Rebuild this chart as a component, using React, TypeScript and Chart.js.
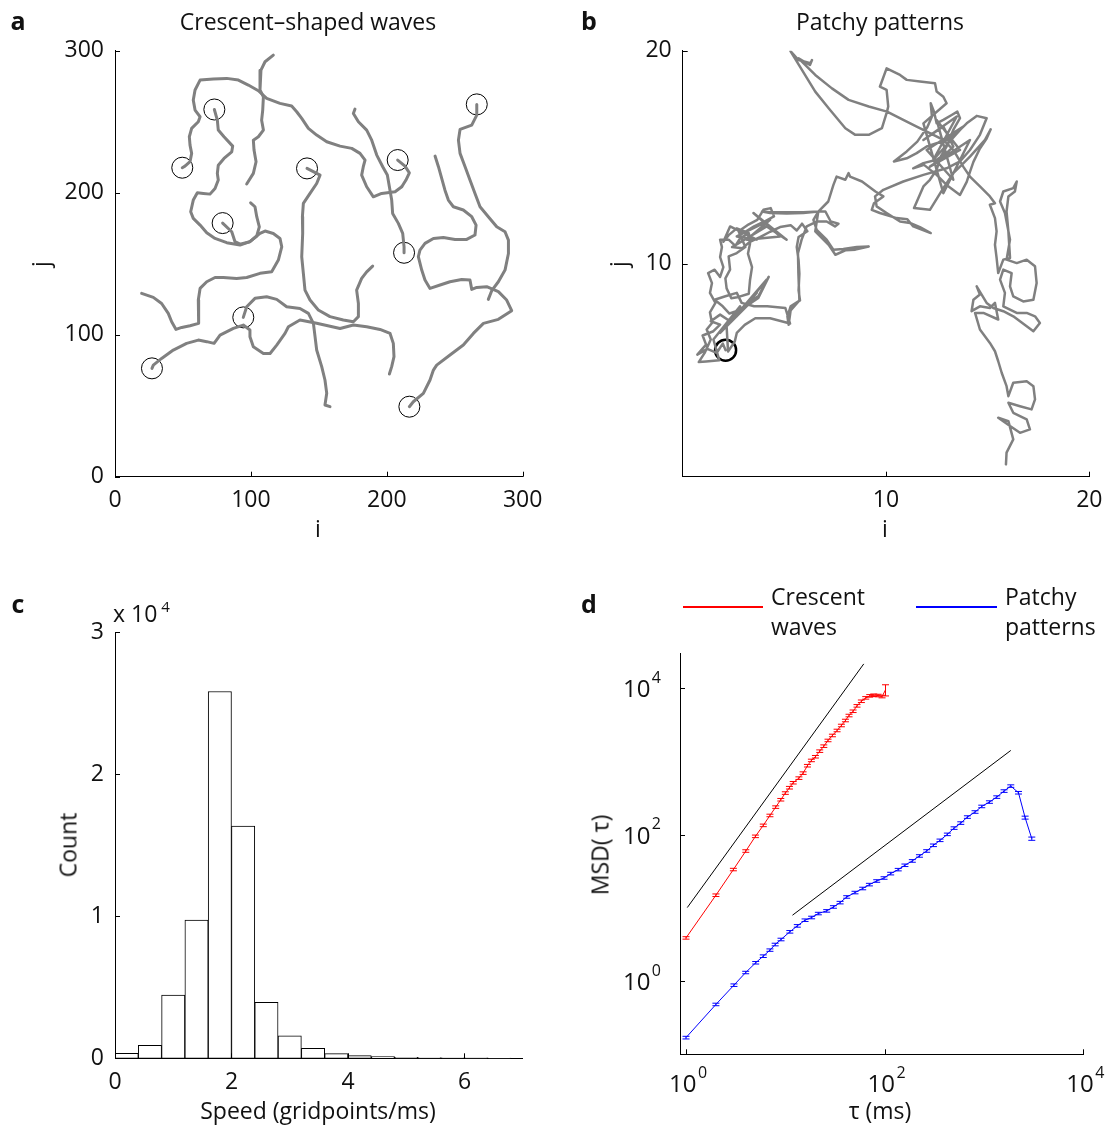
import React, { useEffect, useRef } from "react";
import { Chart, registerables } from "chart.js";
Chart.register(...registerables);

const FONT = "'Open Sans', 'Noto Sans', 'DejaVu Sans', sans-serif";

// ---------------- Panel a : crescent-shaped waves (i, j) ----------------
const trajA1: number[][] = [[73.1,258.6],[75.3,251.1],[76.0,244.1],[80.2,239.4],[86.6,232.8],[85.9,228.8],[80.2,224.1],[76.0,219.4],[75.3,213.5],[76.0,208.9],[73.6,203.0],[69.9,199.0],[65.0,199.5],[60.6,200.0],[57.6,194.8],[55.7,186.6],[57.6,181.9],[62.6,177.2],[67.5,171.8],[73.6,167.8],[82.2,164.8],[92.0,163.1],[99.3,165.5],[104.3,169.5],[106.2,176.0],[104.3,183.1],[103.0,190.1],[99.8,192.9]];
const trajA2: number[][] = [[49.5,217.6],[51.5,218.7],[55.2,221.8],[56.4,227.7],[55.2,233.5],[54.7,239.4],[56.4,245.3],[61.3,250.0],[62.6,253.5],[58.9,258.2],[57.6,265.2],[58.9,272.3],[62.6,279.3],[72.4,280.0],[82.2,280.5],[90.8,279.3],[98.1,275.8],[105.5,271.8],[111.6,266.4],[121.4,262.9],[130.0,261.0],[133.7,257.0],[137.4,252.3],[142.3,245.3],[148.4,240.6],[155.8,235.9],[165.6,232.8],[174.2,231.2],[180.3,227.7],[184.0,223.0],[182.7,218.3],[181.5,212.4],[185.2,204.2],[190.1,197.1],[196.2,199.5],[206.1,200.7],[211.0,204.2]];
const trajA3: number[][] = [[79.2,178.6],[85.9,172.5],[88.3,165.5],[92.0,163.8],[99.3,165.5],[106.7,171.3],[110.4,173.0],[116.5,171.3],[121.4,167.8],[122.7,161.9],[120.2,152.6],[115.3,144.3],[106.7,143.2],[96.9,140.3],[89.5,139.6],[79.7,140.3],[73.6,140.3],[67.5,137.3],[62.6,132.6],[61.3,124.4],[61.8,115.0],[61.3,108.0],[55.2,106.3],[49.1,105.1],[44.9,103.7],[41.7,109.1],[39.2,115.0],[34.3,122.0],[28.2,126.3],[19.6,129.1]];
const trajA4: number[][] = [[141.3,217.1],[150.9,212.4],[148.4,206.5],[143.5,199.5],[138.6,192.5],[137.9,183.1],[138.1,171.3],[137.4,154.9],[138.6,143.2],[139.8,131.4],[143.5,124.4],[149.6,117.4],[158.2,112.7],[168.0,110.3],[175.4,109.1],[179.1,112.7],[179.1,122.0],[177.8,131.4],[181.5,139.6],[185.2,144.3],[189.6,148.3]];
const trajA5: number[][] = [[208.0,223.0],[213.4,218.7],[216.6,214.0],[214.1,208.9],[211.0,204.2]];
const trajA6: number[][] = [[212.7,157.7],[212.7,161.9],[211.7,171.3],[208.5,178.4],[204.3,185.4],[203.6,194.8],[201.9,204.2],[200.4,212.4],[197.0,218.3],[192.6,226.5],[188.9,237.0],[185.2,244.1],[179.1,250.0],[175.4,255.8],[176.6,258.9]];
const trajA7: number[][] = [[266.2,262.2],[266.2,254.6],[262.5,247.6],[253.9,244.6],[252.7,237.0],[253.9,227.7],[257.6,218.3],[261.2,208.9],[264.9,199.5],[268.6,190.1],[274.7,183.1],[280.9,176.0],[287.0,172.5],[289.5,166.6],[289.5,157.2],[287.0,145.5],[282.1,137.3],[277.2,131.0],[274.7,124.9]];
const trajA8: number[][] = [[94.4,112.2],[96.9,119.7],[103.0,125.6],[111.6,126.7],[119.0,124.9],[126.3,119.7],[136.1,118.5],[142.3,115.0],[146.0,108.0],[147.2,98.6],[148.4,89.2],[152.1,77.5],[154.5,68.1],[155.8,58.7],[154.5,50.5],[158.2,49.3]];
const trajA9: number[][] = [[27.2,76.3],[28.2,78.6],[34.3,83.3],[42.9,89.2],[52.7,93.9],[61.3,96.2],[67.5,95.1],[72.9,93.9],[77.3,99.7],[87.1,104.4],[94.4,106.8],[99.3,103.3],[99.3,98.6],[101.8,91.5],[109.2,86.8],[114.1,86.8],[119.0,92.7],[125.1,100.9],[127.6,105.6],[136.1,110.3],[148.4,108.0],[165.6,104.4],[175.4,106.8],[185.2,105.6],[195.0,103.7],[202.4,100.9],[204.8,93.9],[205.3,84.5],[203.6,77.5],[201.9,72.3]];
const trajA10: number[][] = [[216.6,49.3],[219.5,52.8],[226.9,58.7],[231.8,68.1],[234.3,75.1],[236.7,78.6],[246.5,85.7],[256.3,92.7],[263.7,100.9],[271.1,108.0],[282.1,110.8],[291.9,116.9],[288.2,124.4],[282.1,130.3],[273.5,133.8],[266.2,133.3],[262.5,131.9],[261.2,138.5],[255.1,138.9],[246.5,137.3],[239.2,135.0],[231.8,132.6],[228.1,138.5],[225.7,145.5],[223.2,154.9],[224.4,159.6],[228.1,164.3],[234.3,167.8],[241.6,168.5],[250.2,167.1],[258.8,167.1],[264.9,170.2],[265.7,177.2],[262.5,183.1],[256.3,187.8],[249.0,190.1],[245.3,194.8],[242.8,201.8],[240.4,210.1],[238.0,218.3],[235.5,225.8]];
const trajA11: number[][] = [[116.5,296.9],[110.4,292.2],[107.4,286.3],[106.7,279.3],[106.7,272.3],[109.2,267.6],[108.7,258.2],[107.9,251.1],[109.2,244.1],[105.5,239.4],[101.8,237.0],[102.3,230.0],[103.8,221.8],[101.8,213.6],[96.9,206.1]];
const startsI = [73.1, 49.5, 79.2, 141.3, 208.0, 212.7, 266.2, 94.4, 27.2, 216.6];
const startsJ = [258.6, 217.6, 178.6, 217.1, 223.0, 157.7, 262.2, 112.2, 76.3, 49.3];

// ---------------- Panel b : patchy patterns (i, j) ----------------
const patchyPath: number[][] = [
[2.11,5.94],[1.97,6.25],[1.67,5.81],[1.21,6.00],[0.72,5.73],[1.15,6.20],[0.98,6.63],[1.51,6.83],[1.84,7.14],[1.38,7.30],[1.84,7.61],[2.33,7.30],[2.74,7.69],[3.23,8.08],[3.72,8.39],[4.23,9.38],[3.74,8.50],[3.25,8.16],[2.75,7.81],[2.30,7.66],[1.97,8.00],[1.57,8.31],[2.10,8.47],[2.66,8.63],[2.90,8.16],[3.51,8.00],[4.16,8.00],[5.05,7.92],[5.28,7.19],[4.30,7.44],[3.57,7.44],[3.05,7.13],[2.66,6.75],[2.56,6.34],[2.23,5.88],
[2.16,7.06],[4.13,9.25],[2.66,7.53],[3.64,8.63],[2.33,7.22],[3.31,8.16],[1.84,6.75],[2.82,8.00],[1.51,6.44],
[1.80,5.47],[1.15,5.41],[0.79,5.38],[1.08,5.81],[1.38,6.44],[1.18,6.91],[1.44,7.22],[1.34,7.72],[1.61,8.16],[1.34,8.63],[1.44,9.09],[1.25,9.56],[1.57,9.72],[1.84,9.38],[2.00,9.84],[1.84,10.31],[1.93,10.78],[1.84,11.13],[2.26,11.13],[2.59,10.84],[2.82,11.19],[3.25,11.44],[3.31,10.94],[3.21,10.47],[3.41,9.84],[3.31,9.22],[3.25,8.59],[2.75,8.44],[2.39,8.38],[2.16,8.84],[2.10,9.31],[2.33,9.72],[2.26,10.34],[2.66,10.50],[3.08,10.78],[2.75,11.52],[3.18,11.81],[3.67,12.06],[3.97,12.53],[4.33,12.61],[4.49,12.22],[4.00,11.97],[3.51,11.75],[3.08,11.50],[2.66,11.66],[2.26,11.34],[2.00,11.03],
[2.33,11.75],[3.64,11.13],[2.66,11.28],[4.30,12.06],[3.15,11.13],[4.79,11.28],[3.48,12.38],[5.11,11.13],[4.13,11.75],
[2.43,10.78],[2.92,10.72],[3.31,11.03],[3.80,11.25],[4.30,11.50],[4.79,11.72],[5.31,11.81],[5.61,11.56],[5.87,11.88],[6.13,11.52],[5.70,11.25],[5.61,10.78],[5.70,10.16],[5.74,9.53],[5.70,8.75],[5.77,8.28],[5.31,8.00],[5.15,7.53],[5.21,7.13],[5.31,7.81],[5.74,8.28],[5.69,9.56],[5.67,10.50],[5.85,11.13],[6.10,11.75],[6.59,11.98],[7.08,11.98],[7.49,11.75],[7.66,11.88],[7.28,11.98],[7.02,12.45],[6.69,12.45],[5.93,12.42],[5.11,12.41],[4.30,12.41],[3.90,12.45],[4.30,12.38],[5.11,12.36],[5.93,12.38],[6.67,12.45],
[6.52,11.52],[7.18,10.89],[7.51,10.42],[8.00,10.63],[8.49,10.66],[9.15,10.81],[8.56,10.78],[7.90,10.69],[7.41,10.66],[7.08,11.13],[6.59,11.59],[6.43,12.06],[6.67,12.45],
[7.16,12.92],[7.41,13.69],[7.57,14.09],[8.00,13.94],[8.16,14.25],[8.23,14.09],[8.82,13.86],[9.48,13.39],[9.87,13.16],
[9.41,12.84],[9.30,12.53],[9.70,12.38],[10.52,12.14],[11.05,12.09],[11.34,11.75],[12.20,11.44],[11.67,11.72],[11.18,11.91],[10.69,11.98],[10.03,12.38],[9.54,12.69],[9.46,13.16],[9.87,13.47],
[10.85,13.86],[11.84,14.17],[12.98,14.48],[13.64,14.80],[14.13,15.34],[14.62,16.05],[14.95,16.83],[14.46,16.94],[13.97,16.59],[13.48,16.13],[12.98,15.81],[12.49,15.66],[12.00,15.50],[11.51,15.19],[11.02,14.95],[10.39,14.80],[11.02,15.27],[11.54,15.73],[12.03,16.41],[12.26,16.91],[12.20,17.53],[12.36,17.14],[12.49,16.59],[12.82,16.75],[13.23,16.98],[13.51,17.14],[13.64,16.83],[13.31,16.28],[12.98,15.50],[12.69,15.03],[12.49,14.41],[12.16,13.94],[11.84,13.63],[11.38,12.61],[12.16,12.53],[12.82,13.55],[13.31,14.25],[13.64,14.56],[14.13,15.03],[14.87,15.81],[15.15,16.31],[14.95,15.88],[14.62,15.41],[14.30,14.78],[14.13,14.31],[13.97,13.84],[13.64,13.23],[12.98,13.70],[12.49,14.17],[11.87,14.64],[11.34,14.48],[11.84,14.72],[12.49,14.88],[12.98,15.19],[13.31,15.50],[13.07,15.97],[12.82,16.44],
[11.84,15.81],[13.48,16.91],[12.33,14.88],[13.80,16.44],[12.00,15.34],[13.31,13.94],[12.49,16.75],[13.64,15.34],[12.16,14.56],[14.13,15.81],[12.82,13.31],[11.84,16.59],
[12.98,17.53],[12.82,17.84],[12.49,18.08],[12.41,18.47],[11.67,18.55],[11.02,18.63],[10.69,18.86],[10.03,19.17],[9.70,18.31],[10.03,18.16],[10.11,17.38],[10.05,17.14],[9.80,16.36],[9.15,16.05],[8.49,16.05],[8.00,16.36],[7.18,17.30],[6.52,18.08],[5.30,19.98],[5.70,19.56],[6.28,19.41],[6.36,19.56],[6.26,19.33],[5.70,19.64],[6.52,18.86],[7.34,18.23],[8.16,17.69],[9.15,17.38],[10.05,17.14],[10.85,16.75],[11.51,16.44],[12.16,16.13],[12.82,15.81],
[13.31,15.34],[13.80,14.56],[14.13,14.09],[14.62,13.63],[15.11,13.16],[15.36,12.84],[15.11,12.77],[15.36,12.14],[15.44,11.52],[15.36,10.89],[15.44,10.27],[15.52,9.56],[15.77,10.19],[16.10,10.27],[16.02,11.52],[15.93,12.45],[16.02,13.16],[16.34,13.39],[16.43,13.86],[16.26,13.55],[15.77,13.39],[15.61,12.92],[15.85,12.38],[16.10,11.13],[15.93,10.19],[16.43,10.03],[16.92,10.19],[17.33,9.88],[17.41,9.09],[17.25,8.31],[16.75,8.23],[16.26,8.47],[16.10,8.94],[16.18,9.56],[15.77,9.72],[15.61,9.25],[15.85,8.63],[15.77,8.00],[16.43,7.69],[16.92,7.69],[17.33,7.53],[17.57,7.22],[17.25,6.83],[16.92,7.06],[16.26,7.53],[15.77,7.77],[15.28,7.92],[14.95,8.16],[14.46,8.94],[14.62,8.55],[14.30,8.31],[14.21,7.77],[14.62,8.00],[15.11,7.92],[15.36,8.16],[15.52,7.38],[14.79,7.69],[14.38,7.69],[14.62,6.91],[15.11,6.28],[15.36,5.89],[15.52,5.42],[15.69,4.88],[15.93,4.25],[16.02,3.78],[16.26,4.41],[16.92,4.48],[17.25,4.25],[17.33,3.63],[17.16,3.16],[16.59,3.31],[16.02,3.47],[16.26,3.00],[16.92,2.69],[17.08,2.22],[16.59,2.06],[16.10,2.38],[15.52,2.77],[16.02,2.61],[16.26,1.75],[15.93,1.13],[15.90,0.58]
];
const patchyStart = [2.11, 5.94];

// ---------------- Panel c : speed histogram ----------------
const speedBinCenters = [0.2, 0.6, 1.0, 1.4, 1.8, 2.2, 2.6, 3.0, 3.4, 3.8, 4.2, 4.6, 5.0, 5.4, 5.8, 6.2, 6.6];
const speedCounts = [350, 910, 4450, 9730, 25830, 16360, 3940, 1590, 700, 330, 190, 120, 70, 50, 40, 30, 20];

// ---------------- Panel d : MSD ----------------
const tauRed = [1,2,3,4,5,6,7,8,9,10,11,12,13.7,15.1,16.7,18.3,20.1,22.2,24.4,26.9,29.8,33.2,36.7,40.3,43.8,48.1,52.7,58.3,64.5,70.8,77.7,85.9,94.2,102];
const msdRed = [3.89,14.9,33.4,59.8,94.9,134,183,238,300,370,438,512,592,693,875,1033,1160,1383,1618,1936,2265,2650,3099,3625,4240,4850,5750,6640,7390,7870,8020,7950,7700,9500];
const errRed = [0.15,0.6,1.3,2.4,3.8,5.4,7.3,9.5,12,15,18,20,24,28,35,41,46,55,65,77,91,106,124,145,170,194,230,266,296,315,321,318,308,1650];
const tauBlue = [1,2,3.04,3.99,5.03,6.0,7.0,7.9,9.05,11.1,13.2,15.8,18.4,21.5,26.1,30.5,35.6,41.5,50.3,60.1,70.2,83.2,98.6,115,137,160,190,224,265,310,361,428,500,584,681,813,950,1135,1345,1594,1861,2225,2595,3030];
const msdBlue = [0.169,0.48,0.88,1.31,1.78,2.19,2.65,3.16,3.70,4.71,5.68,6.79,7.39,8.37,9.10,10.3,11.8,14.1,16.2,18.4,20.8,23.3,25.6,29.4,33.3,38.2,43.8,51.2,59.9,71.6,83.7,101,123,144,174,204,243,279,326,394,461,374,171,88.2];
const errBlue = [0.007,0.019,0.035,0.05,0.07,0.09,0.1,0.13,0.15,0.19,0.23,0.27,0.3,0.33,0.36,0.41,0.47,0.56,0.65,0.74,0.83,0.93,1.0,1.2,1.3,1.5,1.8,2.0,2.4,2.9,3.3,4.0,4.9,5.8,7.0,8.2,9.7,11,13,16,18,15,8,4.5];
const guideBallisticTau = [1.03, 61.6];
const guideBallisticMsd = [10.1, 21500];
const guideDiffusiveTau = [11.8, 1862];
const guideDiffusiveMsd = [7.94, 1413];
const logTickValues = [1, 100, 10000];
const logTickExponents: Record<number, string> = { 1: "0", 100: "2", 10000: "4" };
const seriesNames = ["Crescent waves", "Patchy patterns"];
const seriesColors = ["#ff0000", "#0000ff"];

// ---------------- helpers ----------------
type Box = { cx: number; cy: number; cw: number; ch: number; left: number; top: number; right: number; bottom: number };

const inwardTicks = {
  id: "inwardTicks",
  afterDatasetsDraw(chart: any) {
    const { ctx, chartArea } = chart;
    const xs = chart.scales.x, ys = chart.scales.y;
    ctx.save();
    ctx.strokeStyle = "#000";
    ctx.lineWidth = 1;
    for (const t of xs.ticks) {
      const p = Math.round(xs.getPixelForValue(t.value)) + 0.5;
      ctx.beginPath(); ctx.moveTo(p, chartArea.bottom); ctx.lineTo(p, chartArea.bottom - 5); ctx.stroke();
    }
    for (const t of ys.ticks) {
      const p = Math.round(ys.getPixelForValue(t.value)) + 0.5;
      ctx.beginPath(); ctx.moveTo(chartArea.left, p); ctx.lineTo(chartArea.left + 5, p); ctx.stroke();
    }
    ctx.restore();
  },
};

const errorBars = {
  id: "errorBars",
  afterDatasetsDraw(chart: any) {
    const { ctx } = chart;
    const xs = chart.scales.x, ys = chart.scales.y;
    chart.data.datasets.forEach((ds: any) => {
      if (!ds.errors) return;
      ctx.save();
      ctx.strokeStyle = ds.borderColor;
      ctx.lineWidth = 1;
      ds.data.forEach((pt: any, k: number) => {
        const e = ds.errors[k];
        const x = xs.getPixelForValue(pt.x);
        const lo = Math.max(pt.y - e, pt.y * 0.05);
        const y1 = ys.getPixelForValue(lo), y2 = ys.getPixelForValue(pt.y + e);
        ctx.beginPath();
        ctx.moveTo(x, y1); ctx.lineTo(x, y2);
        ctx.moveTo(x - 3.5, y1); ctx.lineTo(x + 3.5, y1);
        ctx.moveTo(x - 3.5, y2); ctx.lineTo(x + 3.5, y2);
        ctx.stroke();
      });
      ctx.restore();
    });
  },
};

// "10" with a raised exponent for the log axes
const powerTickLabels = {
  id: "powerTickLabels",
  afterDraw(chart: any) {
    const { ctx, chartArea } = chart;
    const xs = chart.scales.x, ys = chart.scales.y;
    const big = `24px ${FONT}`, small = `16px ${FONT}`;
    ctx.save();
    ctx.fillStyle = "#111";
    ctx.textBaseline = "middle";
    ctx.textAlign = "left";
    const draw = (exp: string, right: number | null, center: number | null, y: number) => {
      ctx.font = big; const wb = ctx.measureText("10").width;
      ctx.font = small; const we = ctx.measureText(exp).width;
      const total = wb + 1.5 + we;
      const x0 = right !== null ? right - total : (center as number) - total / 2;
      ctx.font = big; ctx.fillText("10", x0, y);
      ctx.font = small; ctx.fillText(exp, x0 + wb + 1.5, y - 12);
    };
    for (const t of xs.ticks) draw(logTickExponents[t.value] ?? "", null, xs.getPixelForValue(t.value) + 2, chartArea.bottom + 31);
    for (const t of ys.ticks) draw(logTickExponents[t.value] ?? "", chartArea.left - 19, null, ys.getPixelForValue(t.value) + 2);
    ctx.restore();
  },
};

// legend line samples above panel d (text is HTML)
const LEGEND_Y = 607;
const legendItems = [
  { x0: 683, x1: 763, color: seriesColors[0] },
  { x0: 916, x1: 997, color: seriesColors[1] },
];
const legendLines = {
  id: "legendLines",
  afterDraw(chart: any) {
    const { ctx } = chart;
    ctx.save();
    ctx.lineWidth = 2;
    for (const it of legendItems) {
      ctx.strokeStyle = it.color;
      ctx.beginPath();
      ctx.moveTo(it.x0 - boxD.cx, LEGEND_Y - boxD.cy);
      ctx.lineTo(it.x1 - boxD.cx, LEGEND_Y - boxD.cy);
      ctx.stroke();
    }
    ctx.restore();
  },
};

function axis(box: Box, horizontal: boolean, extra: any, tickExtra: any = {}) {
  const size = horizontal ? box.cy + box.ch - box.bottom : box.left - box.cx;
  return {
    grid: { display: false, drawTicks: false },
    border: { display: true, color: "#000", width: 1 },
    ...extra,
    ticks: {
      color: "#111",
      font: { family: FONT, size: 23 },
      padding: horizontal ? 10 : 11,
      autoSkip: false,
      maxRotation: 0,
      minRotation: 0,
      includeBounds: false,
      ...tickExtra,
    },
    afterFit: (s: any) => {
      if (horizontal) s.height = size; else s.width = size;
      s.paddingLeft = 0; s.paddingRight = 0; s.paddingTop = 0; s.paddingBottom = 0;
    },
  };
}

function baseOptions(box: Box) {
  return {
    responsive: false,
    animation: false as const,
    events: [] as any[],
    layout: { padding: { left: 0, bottom: 0, top: box.top - box.cy, right: box.cx + box.cw - box.right } },
    plugins: { legend: { display: false }, tooltip: { enabled: false }, title: { display: false } },
  };
}

const boxA: Box = { cx: 20, cy: 20, cw: 540, ch: 500, left: 115, top: 50.7, right: 522.7, bottom: 476.7 };
const boxB: Box = { cx: 590, cy: 20, cw: 540, ch: 500, left: 682.7, top: 50.7, right: 1089.3, bottom: 476.7 };
const boxC: Box = { cx: 20, cy: 600, cw: 540, ch: 520, left: 115, top: 632.3, right: 522.7, bottom: 1058.3 };
const boxD: Box = { cx: 590, cy: 570, cw: 540, ch: 550, left: 680, top: 653.3, right: 1083.3, bottom: 1054.3 };

const toPts = (arr: number[][]) => arr.map(([x, y]) => ({ x, y }));

function makeA(canvas: HTMLCanvasElement) {
  const trajs = [trajA1, trajA2, trajA3, trajA4, trajA5, trajA6, trajA7, trajA8, trajA9, trajA10, trajA11];
  const datasets: any[] = trajs.map((t) => ({
    data: toPts(t), showLine: true, borderColor: "#808080", borderWidth: 3, pointRadius: 0,
    borderJoinStyle: "round", borderCapStyle: "round",
  }));
  datasets.push({
    data: startsI.map((x, k) => ({ x, y: startsJ[k] })), showLine: false, pointRadius: 10.5,
    pointBorderColor: "#000", pointBackgroundColor: "rgba(0,0,0,0)", pointBorderWidth: 1,
  });
  return new Chart(canvas, {
    type: "scatter",
    data: { datasets },
    options: {
      ...baseOptions(boxA),
      scales: {
        x: axis(boxA, true, { type: "linear", min: 0, max: 300 }, { stepSize: 100 }),
        y: axis(boxA, false, { type: "linear", min: 0, max: 300 }, { stepSize: 100 }),
      },
    } as any,
    plugins: [inwardTicks],
  });
}

function makeB(canvas: HTMLCanvasElement) {
  const only = (s: any) => { s.ticks = [{ value: 10 }, { value: 20 }]; };
  return new Chart(canvas, {
    type: "scatter",
    data: {
      datasets: [
        { data: toPts(patchyPath), showLine: true, borderColor: "#808080", borderWidth: 2.5, pointRadius: 0, borderJoinStyle: "round", borderCapStyle: "round" },
        { data: [{ x: patchyStart[0], y: patchyStart[1] }], showLine: false, pointRadius: 10.5, pointBorderColor: "#000", pointBackgroundColor: "rgba(0,0,0,0)", pointBorderWidth: 2.5 },
      ] as any,
    },
    options: {
      ...baseOptions(boxB),
      scales: {
        x: axis(boxB, true, { type: "linear", min: 0, max: 20, afterBuildTicks: only }),
        y: axis(boxB, false, { type: "linear", min: 0, max: 20, afterBuildTicks: only }),
      },
    } as any,
    plugins: [inwardTicks],
  });
}

function makeC(canvas: HTMLCanvasElement) {
  return new Chart(canvas, {
    type: "bar",
    data: {
      datasets: [{
        data: speedBinCenters.map((x, k) => ({ x, y: speedCounts[k] })),
        backgroundColor: "#ffffff", borderColor: "#000", borderWidth: 1,
        barPercentage: 1, categoryPercentage: 1, borderSkipped: false,
      }] as any,
    },
    options: {
      ...baseOptions(boxC),
      scales: {
        x: axis(boxC, true, { type: "linear", min: 0, max: 7, offset: false }, { stepSize: 2 }),
        y: axis(boxC, false, { type: "linear", min: 0, max: 30000, beginAtZero: true }, { stepSize: 10000, callback: (v: number) => String(v / 10000) }),
      },
    } as any,
    plugins: [inwardTicks],
  });
}

function makeD(canvas: HTMLCanvasElement) {
  const logTicks = (s: any) => { s.ticks = logTickValues.map((value) => ({ value })); };
  const zip = (xs: number[], ys: number[]) => xs.map((x, k) => ({ x, y: ys[k] }));
  return new Chart(canvas, {
    type: "scatter",
    data: {
      datasets: [
        { data: zip(guideBallisticTau, guideBallisticMsd), showLine: true, borderColor: "#000", borderWidth: 1, pointRadius: 0 },
        { data: zip(guideDiffusiveTau, guideDiffusiveMsd), showLine: true, borderColor: "#000", borderWidth: 1, pointRadius: 0 },
        { label: seriesNames[0], data: zip(tauRed, msdRed), errors: errRed, showLine: true, borderColor: seriesColors[0], borderWidth: 1, pointRadius: 0 },
        { label: seriesNames[1], data: zip(tauBlue, msdBlue), errors: errBlue, showLine: true, borderColor: seriesColors[1], borderWidth: 1, pointRadius: 0 },
      ] as any,
    },
    options: {
      ...baseOptions(boxD),
      scales: {
        x: axis(boxD, true, { type: "logarithmic", min: 0.87, max: 10000, afterBuildTicks: logTicks }, { display: false }),
        y: axis(boxD, false, { type: "logarithmic", min: 0.1, max: 30000, afterBuildTicks: logTicks }, { display: false }),
      },
    } as any,
    plugins: [inwardTicks, errorBars, powerTickLabels, legendLines],
  });
}

function Panel({ box, make }: { box: Box; make: (c: HTMLCanvasElement) => Chart }) {
  const ref = useRef<HTMLCanvasElement>(null);
  useEffect(() => {
    const c = make(ref.current as HTMLCanvasElement);
    return () => c.destroy();
  }, []);
  return (
    <canvas ref={ref} width={box.cw} height={box.ch}
      style={{ position: "absolute", left: box.cx, top: box.cy, width: box.cw, height: box.ch }} />
  );
}

function Txt({ x, y, children, size = 23, bold = false }: any) {
  return (
    <div style={{
      position: "absolute", left: x, top: y, whiteSpace: "nowrap", color: "#111",
      fontFamily: FONT, fontSize: size, fontWeight: bold ? 700 : 400, lineHeight: 1,
      transform: "translate(-50%, -50%)",
    }}>{children}</div>
  );
}

function RotTxt({ x, y, children }: any) {
  return (
    <div style={{
      position: "absolute", left: x, top: y, whiteSpace: "nowrap", color: "#111",
      fontFamily: FONT, fontSize: 23, lineHeight: 1,
      transform: "translate(-50%, -50%) rotate(-90deg)",
    }}>{children}</div>
  );
}

export default function App() {
  const [w1, w2] = seriesNames[0].split(" ");
  const [p1, p2] = seriesNames[1].split(" ");
  return (
    <div style={{ position: "absolute", left: 0, top: 0, width: 1107, height: 1128, overflow: "hidden", background: "#fff" }}>
      <Panel box={boxA} make={makeA} />
      <Panel box={boxB} make={makeB} />
      <Panel box={boxC} make={makeC} />
      <Panel box={boxD} make={makeD} />

      <Txt x={18} y={20} size={25} bold>a</Txt>
      <Txt x={589} y={20} size={25} bold>b</Txt>
      <Txt x={18} y={603} size={25} bold>c</Txt>
      <Txt x={589} y={603} size={25} bold>d</Txt>

      <Txt x={308} y={21}>Crescent–shaped waves</Txt>
      <Txt x={880} y={21}>Patchy patterns</Txt>

      <Txt x={318} y={528}>i</Txt>
      <RotTxt x={40} y={264}>j</RotTxt>
      <Txt x={885} y={528}>i</Txt>
      <RotTxt x={618} y={264}>j</RotTxt>

      <RotTxt x={68} y={845}>Count</RotTxt>
      <Txt x={318} y={1110}>Speed (gridpoints/ms)</Txt>
      <div style={{ position: "absolute", left: 113, top: 602, fontFamily: FONT, fontSize: 23, color: "#111", lineHeight: 1, whiteSpace: "nowrap" }}>
        x 10<span style={{ fontSize: 15, position: "relative", top: -10, marginLeft: 4 }}>4</span>
      </div>

      <RotTxt x={600} y={855}>MSD( τ)</RotTxt>
      <Txt x={880} y={1110}>τ (ms)</Txt>

      <div style={{ position: "absolute", left: 771, top: 581, fontFamily: FONT, fontSize: 23, lineHeight: "30px", color: "#111" }}>{w1}<br />{w2}</div>
      <div style={{ position: "absolute", left: 1005, top: 581, fontFamily: FONT, fontSize: 23, lineHeight: "30px", color: "#111" }}>{p1}<br />{p2}</div>
    </div>
  );
}
